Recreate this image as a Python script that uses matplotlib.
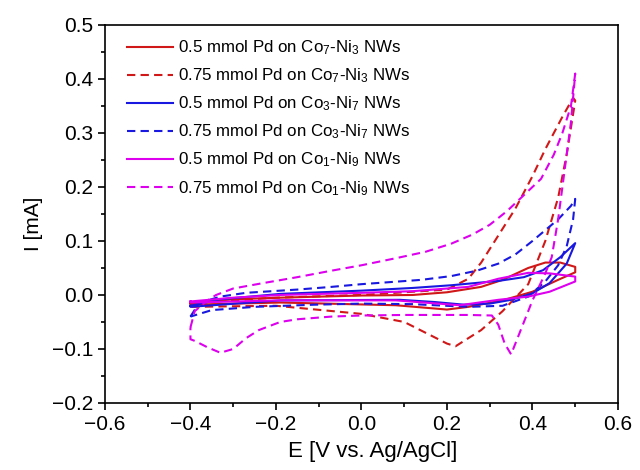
import matplotlib
matplotlib.use("Agg")
import matplotlib.pyplot as plt
from matplotlib.ticker import MultipleLocator

plt.rcParams['font.family'] = ['Liberation Sans', 'DejaVu Sans']
plt.rcParams['mathtext.default'] = 'regular'

labels = [
    "0.5 mmol Pd on Co$_7$-Ni$_3$ NWs",
    "0.75 mmol Pd on Co$_7$-Ni$_3$ NWs",
    "0.5 mmol Pd on Co$_3$-Ni$_7$ NWs",
    "0.75 mmol Pd on Co$_3$-Ni$_7$ NWs",
    "0.5 mmol Pd on Co$_1$-Ni$_9$ NWs",
    "0.75 mmol Pd on Co$_1$-Ni$_9$ NWs",
]

# potential / current of each closed CV loop (forward scan then return scan)
e_red_05 = [-0.4, -0.3, -0.19, 0.0, 0.12, 0.2, 0.28, 0.33, 0.39, 0.43, 0.465, 0.5, 0.5,
            0.46, 0.4, 0.33, 0.25, 0.2, 0.08, -0.19, -0.4, -0.4]
i_red_05 = [-0.015, -0.008, -0.005, -0.001, 0.0, 0.005, 0.015, 0.028, 0.05, 0.06, 0.06, 0.052, 0.042,
            0.028, 0.006, -0.01, -0.022, -0.027, -0.019, -0.014, -0.018, -0.015]

e_red_075 = [-0.4, -0.3, -0.2, 0.0, 0.2, 0.25, 0.28, 0.32, 0.36, 0.4, 0.43, 0.47, 0.495, 0.5,
             0.48, 0.46, 0.43, 0.39, 0.33, 0.28, 0.22, 0.2, 0.1, 0.0, -0.2, -0.4, -0.4]
i_red_075 = [-0.015, -0.01, -0.005, 0.0, 0.01, 0.03, 0.06, 0.11, 0.16, 0.22, 0.27, 0.33, 0.365, 0.36,
             0.26, 0.18, 0.1, 0.02, -0.03, -0.065, -0.095, -0.09, -0.05, -0.035, -0.02, -0.022, -0.015]

e_blue_05 = [-0.4, -0.33, -0.19, 0.0, 0.12, 0.21, 0.32, 0.38, 0.425, 0.465, 0.5,
             0.48, 0.44, 0.4, 0.35, 0.3, 0.24, 0.17, 0.09, -0.19, -0.4, -0.4]
i_blue_05 = [-0.02, -0.008, 0.002, 0.008, 0.013, 0.018, 0.026, 0.033, 0.046, 0.07, 0.096,
             0.058, 0.022, 0.003, -0.009, -0.016, -0.018, -0.013, -0.009, -0.01, -0.022, -0.02]

e_blue_075 = [-0.4, -0.38, -0.33, -0.27, -0.15, -0.07, 0.0, 0.14, 0.21, 0.27, 0.32, 0.36, 0.4, 0.43,
              0.46, 0.49, 0.5, 0.495, 0.48, 0.46, 0.43, 0.39, 0.33, 0.25, 0.12, 0.0, -0.11, -0.25,
              -0.35, -0.4]
i_blue_075 = [-0.04, -0.015, -0.003, 0.004, 0.01, 0.015, 0.02, 0.028, 0.035, 0.045, 0.058, 0.075, 0.1,
              0.12, 0.14, 0.165, 0.178, 0.14, 0.09, 0.055, 0.025, -0.003, -0.02, -0.022, -0.017,
              -0.016, -0.018, -0.022, -0.028, -0.04]

e_mag_05 = [-0.4, -0.3, -0.19, 0.0, 0.12, 0.25, 0.32, 0.39, 0.44, 0.5, 0.5,
            0.44, 0.39, 0.32, 0.23, 0.08, -0.19, -0.4, -0.4]
i_mag_05 = [-0.012, -0.005, 0.0, 0.004, 0.007, 0.015, 0.03, 0.041, 0.04, 0.034, 0.025,
            0.006, -0.003, -0.009, -0.019, -0.01, -0.01, -0.014, -0.012]

e_mag_075 = [-0.4, -0.39, -0.36, -0.34, -0.3, -0.23, -0.15, -0.07, 0.0, 0.08, 0.15, 0.21, 0.26,
             0.3, 0.34, 0.38, 0.42, 0.45, 0.47, 0.49, 0.5,
             0.49, 0.475, 0.46, 0.445, 0.43, 0.4, 0.37, 0.35, 0.335, 0.32, 0.305, 0.25, 0.1, 0.0,
             -0.07, -0.15, -0.19, -0.24, -0.27, -0.3, -0.33, -0.36, -0.39, -0.4, -0.4]
i_mag_075 = [-0.06, -0.03, -0.01, 0.0, 0.012, 0.022, 0.033, 0.045, 0.055, 0.068, 0.08, 0.095, 0.112,
             0.13, 0.155, 0.185, 0.215, 0.26, 0.3, 0.35, 0.41,
             0.32, 0.23, 0.14, 0.07, 0.04, -0.01, -0.07, -0.11, -0.09, -0.055, -0.038, -0.037, -0.037,
             -0.038, -0.04, -0.045, -0.05, -0.065, -0.08, -0.1, -0.107, -0.097, -0.085, -0.082, -0.06]

series = [
    (e_red_05, i_red_05, '#d01818', '-'),
    (e_red_075, i_red_075, '#d01818', '--'),
    (e_blue_05, i_blue_05, '#1818e0', '-'),
    (e_blue_075, i_blue_075, '#1818e0', '--'),
    (e_mag_05, i_mag_05, '#dd00ee', '-'),
    (e_mag_075, i_mag_075, '#dd00ee', '--'),
]

fig = plt.figure(figsize=(6.4, 4.7), dpi=100)
ax = fig.add_axes([0.164, 0.1426, 0.8016, 0.8043])

for (e, i, c, ls), lab in zip(series, labels):
    line, = ax.plot(e, i, color=c, linestyle=ls, lw=1.5, label=lab)
    if ls == '--':
        line.set_dashes((4, 2.5))

ax.set_xlim(-0.6, 0.6)
ax.set_ylim(-0.2, 0.5)
ax.xaxis.set_major_locator(MultipleLocator(0.2))
ax.xaxis.set_minor_locator(MultipleLocator(0.1))
ax.yaxis.set_major_locator(MultipleLocator(0.1))
ax.yaxis.set_minor_locator(MultipleLocator(0.05))
ax.tick_params(which='both', direction='out', top=False, right=False, labelsize=15, width=1.2)
ax.tick_params(which='major', length=5)
ax.tick_params(which='minor', length=3)
for sp in ax.spines.values():
    sp.set_linewidth(1.2)

ax.set_xlabel("E [V vs. Ag/AgCl]", fontsize=16)
ax.set_ylabel("I [mA]", fontsize=15)
ax.xaxis.set_label_coords(0.522, -0.1)
ax.yaxis.set_label_coords(-0.12, 0.475)

ax.legend(loc='upper left', frameon=False, fontsize=12.2, handlelength=2.7,
          handletextpad=0.3, labelspacing=0.55, borderaxespad=0.3, bbox_to_anchor=(0.02, 0.995))

fig.savefig("out.png", dpi=100)
